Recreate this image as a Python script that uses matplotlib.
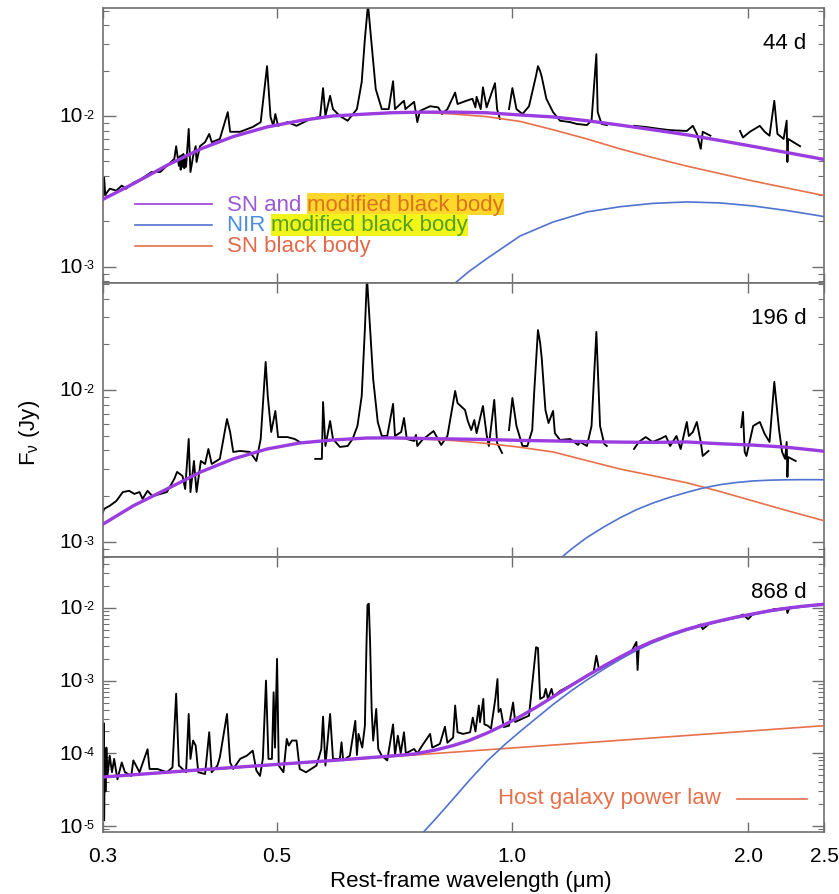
import numpy as np
import matplotlib
matplotlib.use("Agg")
import matplotlib.pyplot as plt
from matplotlib.ticker import FixedLocator, FixedFormatter, LogLocator, NullLocator, NullFormatter

plt.rcParams.update({
    "font.family": ["Liberation Sans", "DejaVu Sans"],
    "mathtext.fontset": "custom",
    "mathtext.rm": "Liberation Sans",
    "mathtext.it": "Liberation Sans:italic",
    "mathtext.bf": "Liberation Sans:bold",
})

nan = float("nan")

# ---- observed spectra (wavelength in um, flux in mJy; nan = gap) ----
WL_44 = [0.300, 0.301, 0.302, 0.306, 0.312, 0.317, 0.321, 0.328, 0.336, 0.346,
         0.355, 0.362, 0.370, 0.372, 0.375, 0.376, 0.377, 0.378, 0.379, 0.380,
         0.381, 0.382, 0.383, 0.386, 0.388, 0.391, 0.394, 0.395, 0.399, 0.405,
         0.410, 0.413, 0.423, 0.433, 0.436, 0.449, 0.466, 0.477, 0.486, 0.491,
         0.495, 0.498, 0.502, 0.516, 0.530, 0.552, 0.568, 0.573, 0.577, 0.585,
         0.590, 0.602, 0.616, 0.633, 0.642, 0.648, 0.654, 0.660, 0.669, 0.681,
         0.695, 0.704, 0.708, 0.724, 0.727, 0.730, 0.749, 0.756, 0.762, 0.785,
         0.804, 0.813, 0.826, 0.845, 0.851, 0.873, 0.889, 0.897, 0.900, 0.911,
         0.917, 0.927, 0.950, 0.956, 0.964, nan,
         0.990, 1.000, 1.012, 1.030, 1.050, 1.072, 1.078, 1.085, 1.090, 1.105,
         1.127, 1.150, 1.185, 1.209, 1.245, 1.262, 1.280, 1.285, 1.300, 1.320, nan,
         1.430, 1.480, 1.543, 1.590, 1.670, 1.700, 1.720, 1.740, 1.750, 1.790, nan,
         1.953, 1.970, 2.010, 2.070, 2.100, 2.130, 2.160, 2.180, 2.220, 2.240,
         2.245, 2.250, 2.330]
FLUX_44 = [2.82, 3.9, 3.0, 3.29, 3.2, 3.45, 3.29, 3.6, 3.83, 4.25,
           4.25, 4.67, 5.19, 6.3, 4.67, 5.4, 4.4, 5.5, 4.6, 5.6,
           4.5, 5.3, 4.6, 8.2, 4.25, 5.4, 6.3, 4.95, 6.3, 6.7,
           7.6, 6.7, 7.04, 10.6, 7.85, 7.85, 8.45, 9.1, 21.4, 9.85,
           8.6, 10.3, 8.6, 9.1, 8.6, 9.55, 9.85, 15.3, 10.0, 13.6,
           11.1, 10.0, 9.3, 11.1, 16.8, 32.4, 55.0, 32.4, 15.1, 11.1,
           11.1, 17.0, 11.1, 12.4, 12.6, 11.1, 12.4, 9.1, 10.8, 11.6,
           11.4, 10.3, 11.1, 14.3, 12.0, 12.6, 13.0, 11.4, 13.4, 11.1,
           15.5, 11.4, 16.5, 11.1, 9.55, nan,
           11.1, 15.3, 11.1, 10.3, 11.6, 18.5, 21.4, 19.8, 18.2, 13.0,
           10.6, 9.3, 9.1, 8.85, 8.7, 9.3, 25.7, 10.6, 8.85, 8.7, nan,
           8.6, 8.45, 8.2, 8.05, 7.95, 8.6, 7.6, 6.05, 7.85, 7.4, nan,
           7.95, 7.2, 7.85, 8.6, 7.85, 7.4, 12.6, 7.6, 7.04, 9.3,
           4.95, 7.04, 6.3]

WL_196 = [0.300, 0.301, 0.306, 0.312, 0.318, 0.324, 0.329, 0.334, 0.337, 0.342,
          0.347, 0.355, 0.362, 0.370, 0.373, 0.379, 0.382, 0.386, 0.388, 0.392,
          0.395, 0.400, 0.405, 0.409, 0.413, 0.423, 0.432, 0.436, 0.440, 0.449,
          0.462, 0.471, 0.477, 0.484, 0.487, 0.492, 0.498, 0.502, 0.516, 0.527,
          0.535, nan,
          0.560, 0.571, 0.573, 0.577, 0.585, 0.590, 0.602, 0.616, 0.625, 0.634,
          0.642, 0.648, 0.652, 0.658, 0.664, 0.673, 0.681, 0.692, 0.704, 0.708,
          0.721, 0.727, 0.733, 0.749, 0.753, 0.756, 0.767, 0.793, 0.811, 0.826,
          0.845, 0.851, 0.870, 0.877, 0.886, 0.894, 0.900, 0.917, 0.927, 0.933,
          0.948, 0.956, 0.970, nan,
          0.990, 1.000, 1.012, 1.030, 1.045, 1.060, 1.066, 1.078, 1.085, 1.090,
          1.102, 1.112, 1.127, 1.133, 1.150, 1.185, 1.213, 1.220, 1.245, 1.262,
          1.280, 1.294, 1.310, 1.320, nan,
          1.430, 1.450, 1.480, 1.510, 1.543, 1.570, 1.590, 1.620, 1.640, 1.670,
          1.680, 1.700, 1.720, 1.740, 1.750, 1.780, nan,
          1.960, 1.970, 1.980, 1.990, 2.030, 2.070, 2.100, 2.130, 2.160, 2.190,
          2.210, 2.230, 2.240, 2.245, 2.250, 2.300]
FLUX_196 = [1.57, 1.65, 1.73, 1.86, 2.13, 2.17, 2.07, 2.13, 1.92, 2.17,
            2.0, 2.07, 2.13, 2.6, 2.89, 2.72, 2.23, 4.76, 2.13, 3.41,
            2.13, 3.41, 3.26, 4.09, 3.26, 3.52, 6.44, 5.29, 3.91, 3.97,
            3.91, 3.41, 4.76, 15.3, 9.13, 5.29, 7.28, 4.9, 4.9, 4.76,
            4.55, nan,
            3.52, 3.52, 8.33, 4.28, 6.25, 4.76, 4.22, 4.28, 4.76, 5.8,
            9.13, 25.2, 55.0, 25.2, 11.8, 6.16, 4.98, 4.98, 8.1, 4.98,
            5.29, 6.54, 4.76, 4.62, 5.06, 4.28, 4.69, 5.37, 4.35, 4.98,
            9.85, 8.2, 7.38, 6.25, 5.45, 6.35, 5.2, 7.85, 5.06, 4.28,
            8.6, 4.48, 3.85, nan,
            5.45, 8.86, 5.8, 4.28, 4.28, 5.45, 9.55, 24.8, 20.4, 16.2,
            7.38, 6.06, 7.28, 5.2, 4.69, 4.76, 4.35, 4.55, 4.28, 5.8,
            24.1, 5.8, 4.42, 4.28, nan,
            4.09, 4.55, 4.9, 4.55, 4.76, 4.98, 4.28, 4.98, 4.09, 6.16,
            4.98, 5.29, 6.16, 4.55, 3.68, 3.97, nan,
            5.7, 7.17, 3.91, 3.68, 5.8, 6.16, 5.13, 4.55, 11.3, 5.53,
            3.91, 3.52, 4.55, 2.68, 3.62, 3.41]

WL_868 = [0.3002, 0.3006, 0.3010, 0.3016, 0.3022, 0.3030, 0.3040, 0.3060, 0.3080, 0.3100,
          0.3130, 0.3170, 0.3200, 0.3260, 0.3280, 0.3340, 0.3420, 0.3440, 0.3520, 0.3620,
          0.3680, 0.3720, 0.3750, 0.3830, 0.3860, 0.3880, 0.3910, 0.3940, 0.3970, 0.4050,
          0.4100, 0.4130, 0.4200, 0.4230, 0.4320, 0.4340, 0.4360, 0.4400, 0.4490, 0.4580,
          0.4660, 0.4710, 0.4760, 0.4800, 0.4845, 0.4880, 0.4930, 0.4955, 0.4975, 0.5005,
          0.5030, 0.5100, 0.5150, 0.5180, 0.5230, 0.5300, 0.5350, 0.5450, 0.5620, 0.5700,
          0.5730, 0.5770, 0.5850, 0.5900, 0.6020, 0.6050, 0.6080, 0.6200, 0.6300, 0.6330,
          0.6360, 0.6430, 0.6480, 0.6510, 0.6530, 0.6555, 0.6580, 0.6610, 0.6640, 0.6700,
          0.6740, 0.6810, 0.6920, 0.7040, 0.7080, 0.7140, 0.7200, 0.7270, 0.7310, 0.7490,
          0.7560, 0.7670, 0.7850, 0.7900, 0.8080, 0.8200, 0.8260, 0.8400, 0.8450, 0.8510,
          0.8650, 0.8830, 0.8900, 0.8970, 0.9060, 0.9090, 0.9180, 0.9210, 0.9300, 0.9390,
          0.9510, 0.9570, 0.9600, 0.9660, 0.9750, 0.9900, 1.0020, 1.0080, 1.0300, 1.0500,
          1.0720, 1.0780, 1.0850, 1.0970, 1.1030, 1.1100, 1.1220, 1.1280, 1.1500, 1.2000,
          1.2450, 1.2700, 1.2800, 1.2900, 1.3300, 1.3800, 1.4200, 1.4400, 1.4450, 1.4500,
          1.5000, 1.5500, 1.6000, 1.6500, 1.7000, 1.7400, 1.7500, 1.7900, 1.8500, 1.9500,
          1.9700, 2.0000, 2.0300, 2.1300, 2.1600, 2.2400, 2.2450, 2.2600, 2.3300]
FLUX_868 = [0.05, 0.26, 0.012, 0.09, 0.03, 0.12, 0.05, 0.093, 0.055, 0.084,
            0.044, 0.075, 0.055, 0.049, 0.08, 0.055, 0.114, 0.061, 0.061, 0.055,
            0.064, 0.66, 0.068, 0.055, 0.348, 0.084, 0.15, 0.128, 0.055, 0.052,
            0.195, 0.055, 0.068, 0.088, 0.348, 0.158, 0.075, 0.061, 0.084, 0.093,
            0.109, 0.058, 0.049, 0.084, 1.0, 0.084, 0.084, 0.69, 0.12, 1.99,
            0.068, 0.055, 0.158, 0.128, 0.15, 0.15, 0.061, 0.055, 0.068, 0.114,
            0.32, 0.068, 0.348, 0.084, 0.084, 0.142, 0.08, 0.093, 0.28, 0.095,
            0.185, 0.12, 0.24, 3.0, 11.0, 11.4, 3.4, 0.408, 0.15, 0.408,
            0.115, 0.093, 0.08, 0.25, 0.095, 0.175, 0.1, 0.195, 0.1, 0.115,
            0.1, 0.128, 0.185, 0.12, 0.135, 0.232, 0.14, 0.165, 0.454, 0.195,
            0.185, 0.195, 0.31, 0.2, 0.454, 0.268, 0.56, 0.25, 0.24, 0.22,
            0.56, 1.05, 0.37, 0.408, 0.23, 0.24, 0.5, 0.27, 0.3, 0.33,
            2.88, 2.8, 0.56, 0.6, 0.77, 0.56, 0.77, 0.6, 0.72, 0.92,
            1.18, 1.33, 2.2, 1.42, 1.72, 2.15, 2.55, 3.4, 1.4, 2.85,
            3.4, 3.85, 4.35, 4.9, 5.35, 5.9, 5.1, 6.2, 6.7, 7.7,
            8.1, 7.0, 8.3, 9.2, 9.6, 9.9, 8.5, 10.2, 10.4]

# ---- model components (mJy) ----
MOD_WL = [0.30, 0.328, 0.362, 0.40, 0.44, 0.486, 0.535, 0.59, 0.652, 0.70,
          0.762, 0.84, 0.927, 1.023, 1.127, 1.245, 1.372, 1.51, 1.67, 1.84,
          2.03, 2.24, 2.45, 2.5]
TOTAL_44 = [2.8, 3.55, 4.7, 6.05, 7.3, 8.45, 9.3, 10.0, 10.3, 10.5,
            10.6, 10.6, 10.5, 10.15, 9.85, 9.3, 8.7, 8.1, 7.5, 6.88,
            6.28, 5.72, 5.25, 5.15]
SNBB_44 = [2.8, 3.55, 4.7, 6.05, 7.3, 8.45, 9.3, 10.0, 10.3, 10.5,
           10.55, 10.3, 9.9, 9.2, 8.1, 7.04, 6.05, 5.3, 4.65, 4.15,
           3.7, 3.33, 3.03, 2.97]
NIR_WL_44 = [0.845, 0.88, 0.927, 1.023, 1.127, 1.245, 1.372, 1.51, 1.67, 1.84,
             2.03, 2.24, 2.45, 2.5]
NIR_44 = [0.78, 0.93, 1.13, 1.6, 1.98, 2.31, 2.5, 2.63, 2.69, 2.65,
          2.53, 2.36, 2.19, 2.15]

TOTAL_196 = [1.31, 1.73, 2.23, 2.89, 3.52, 4.09, 4.48, 4.69, 4.83, 4.84,
             4.80, 4.76, 4.72, 4.66, 4.62, 4.57, 4.54, 4.52, 4.55, 4.43,
             4.34, 4.2, 4.0, 3.95]
SNBB_196 = [1.31, 1.73, 2.23, 2.89, 3.52, 4.09, 4.48, 4.69, 4.83, 4.82,
            4.76, 4.65, 4.45, 4.2, 3.91, 3.43, 3.02, 2.73, 2.45, 2.15,
            1.86, 1.61, 1.42, 1.38]
NIR_WL_196 = [1.155, 1.19, 1.245, 1.31, 1.372, 1.44, 1.51, 1.59, 1.67, 1.75,
              1.84, 1.93, 2.03, 2.13, 2.24, 2.35, 2.45, 2.5]
NIR_196 = [0.79, 0.9, 1.07, 1.26, 1.44, 1.63, 1.8, 1.97, 2.12, 2.26,
           2.38, 2.46, 2.52, 2.55, 2.565, 2.57, 2.57, 2.565]

TOT_WL_868 = [0.30, 0.40, 0.50, 0.60, 0.70, 0.75, 0.80, 0.84, 0.88, 0.93,
              0.98, 1.023, 1.075, 1.127, 1.19, 1.245, 1.31, 1.372, 1.44, 1.51,
              1.59, 1.67, 1.75, 1.84, 1.93, 2.03, 2.13, 2.24, 2.35, 2.45, 2.5]
TOTAL_868 = [0.0473, 0.0595, 0.0705, 0.081, 0.092, 0.098, 0.112, 0.128, 0.15, 0.192,
             0.252, 0.321, 0.436, 0.60, 0.866, 1.16, 1.6, 2.1, 2.76, 3.46,
             4.27, 5.08, 5.83, 6.64, 7.45, 8.26, 9.11, 9.87, 10.53, 10.99, 11.19]
HOST_WL = [0.30, 2.5]
HOST_868 = [0.047, 0.24]
NIR_WL_868 = [0.77, 0.80, 0.84, 0.88, 0.93, 0.98, 1.023, 1.075, 1.127, 1.19,
              1.245, 1.31, 1.372, 1.44, 1.51, 1.59, 1.67, 1.75, 1.84, 1.93,
              2.03, 2.13, 2.24, 2.35, 2.45, 2.5]
NIR_868 = [0.0083, 0.013, 0.0236, 0.042, 0.08, 0.135, 0.2, 0.31, 0.47, 0.73,
           1.02, 1.45, 1.95, 2.6, 3.3, 4.1, 4.9, 5.65, 6.45, 7.25,
           8.05, 8.9, 9.65, 10.3, 10.75, 10.95]

EPOCHS = ["44 d", "196 d", "868 d"]
YLIMS = [(7.8e-4, 5.2e-2), (7.96e-4, 5.06e-2), (8.3e-6, 5.0e-2)]
XTICKS = [0.3, 0.5, 1.0, 2.0, 2.5]
XTICK_LABELS = ["0.3", "0.5", "1.0", "2.0", "2.5"]

C_TOT = "#9a3ce0"
C_NIR = "#5072d0"
C_BB = "#e8704a"
C_AX = "#707070"

fig = plt.figure(figsize=(8.39, 8.95), dpi=100)
left, width = 103 / 839, 721 / 839
boxes = [(1 - 284 / 895, 275 / 895), (1 - 558 / 895, 274 / 895), (1 - 833 / 895, 275 / 895)]
axes = [fig.add_axes([left, b, width, h]) for b, h in boxes]

mjy = lambda v: np.asarray(v, dtype=float) * 1e-3

panels = [
    (WL_44, FLUX_44, MOD_WL, TOTAL_44, MOD_WL, SNBB_44, NIR_WL_44, NIR_44),
    (WL_196, FLUX_196, MOD_WL, TOTAL_196, MOD_WL, SNBB_196, NIR_WL_196, NIR_196),
    (WL_868, FLUX_868, TOT_WL_868, TOTAL_868, HOST_WL, HOST_868, NIR_WL_868, NIR_868),
]


def decade_labels(ax):
    """IDL-style '10' with a small raised exponent at each major y tick."""
    lo, hi = ax.get_ylim()
    trans = ax.get_yaxis_transform()
    for v in ax.get_yticks():
        if not (lo <= v <= hi):
            continue
        e = int(round(np.log10(v)))
        base = ax.annotate("10", xy=(0, v), xycoords=trans, xytext=(-14.5, 0),
                           textcoords="offset points", ha="right", va="center",
                           fontsize=15)
        ax.annotate(f"{e:d}".replace("\u2212", "-"), xy=(1, 1), xycoords=base,
                    xytext=(0.5, -1.5), textcoords="offset points",
                    ha="left", va="top", fontsize=9)


for i, (ax, p) in enumerate(zip(axes, panels)):
    wl, fl, twl, tot, bwl, bb, nwl, nir = p
    ax.plot(wl, mjy(fl), color="black", lw=1.35, zorder=2)
    ax.plot(bwl, mjy(bb), color=C_BB, lw=1.2, zorder=3)
    ax.plot(nwl, mjy(nir), color=C_NIR, lw=1.2, zorder=3)
    ax.plot(twl, mjy(tot), color=C_TOT, lw=2.4, zorder=4)

    ax.set_xscale("log")
    ax.set_yscale("log")
    ax.set_xlim(0.3, 2.5)
    ax.set_ylim(*YLIMS[i])

    ax.xaxis.set_major_locator(FixedLocator(XTICKS))
    ax.xaxis.set_minor_locator(NullLocator())
    ax.yaxis.set_major_locator(LogLocator(base=10))
    ax.yaxis.set_minor_locator(LogLocator(base=10, subs=np.arange(2, 10)))
    ax.yaxis.set_major_formatter(NullFormatter())
    ax.yaxis.set_minor_formatter(NullFormatter())
    ax.tick_params(which="both", direction="in", top=True, right=True, color=C_AX)
    ax.tick_params(axis="y", which="major", length=9, width=1.0)
    ax.tick_params(axis="y", which="minor", length=4.5, width=0.8)
    ax.tick_params(axis="x", which="major", length=7, width=1.0, labelsize=15, pad=10)
    for s in ax.spines.values():
        s.set_color(C_AX)
        s.set_linewidth(1.2)
    if i < 2:
        ax.tick_params(labelbottom=False)
    else:
        ax.xaxis.set_major_formatter(FixedFormatter(XTICK_LABELS))
    decade_labels(ax)

    ax.text(0.976, 0.875, EPOCHS[i], transform=ax.transAxes, ha="right",
            va="center", fontsize=16)

# legend in top panel: line sample + multi-coloured label
ax = axes[0]
rows = [
    (0.287, C_TOT, [("SN and ", "#9b59d6", None), ("modified black body", "#d9741c", "#ffd62a")]),
    (0.211, C_NIR, [("NIR ", "#4d8ce0", None), ("modified black body", "#55a01e", "#f2f51a")]),
    (0.135, C_BB, [("SN black body", "#e26a4a", None)]),
]
for y, lc, parts in rows:
    ax.plot([0.0444, 0.151], [y, y], transform=ax.transAxes, color=lc, lw=1.2)
    prev = None
    for txt, col, hl in parts:
        kw = dict(color=col, fontsize=16)
        if hl:
            kw["bbox"] = dict(boxstyle="square,pad=0.02", fc=hl, ec="none")
        if prev is None:
            prev = ax.text(0.1716, y, txt, transform=ax.transAxes, ha="left",
                           va="center", **kw)
        else:
            prev = ax.annotate(txt, xy=(1, 0), xycoords=prev, ha="left",
                               va="bottom", **kw)

# host galaxy label in bottom panel
ax = axes[2]
ax.text(0.548, 0.125, "Host galaxy power law", transform=ax.transAxes,
        ha="left", va="center", fontsize=16, color=C_BB)
ax.plot([0.879, 0.976], [0.12, 0.12], transform=ax.transAxes, color=C_BB, lw=1.2)

fig.text(30 / 839, 1 - 433 / 895, r"F$_\mathrm{\nu}$ (Jy)", rotation=90,
         ha="center", va="center", fontsize=16)
fig.text(471 / 839, 1 - 882 / 895, "Rest-frame wavelength (\u03bcm)",
         ha="center", va="center", fontsize=16)

fig.savefig("out.png", dpi=100)
